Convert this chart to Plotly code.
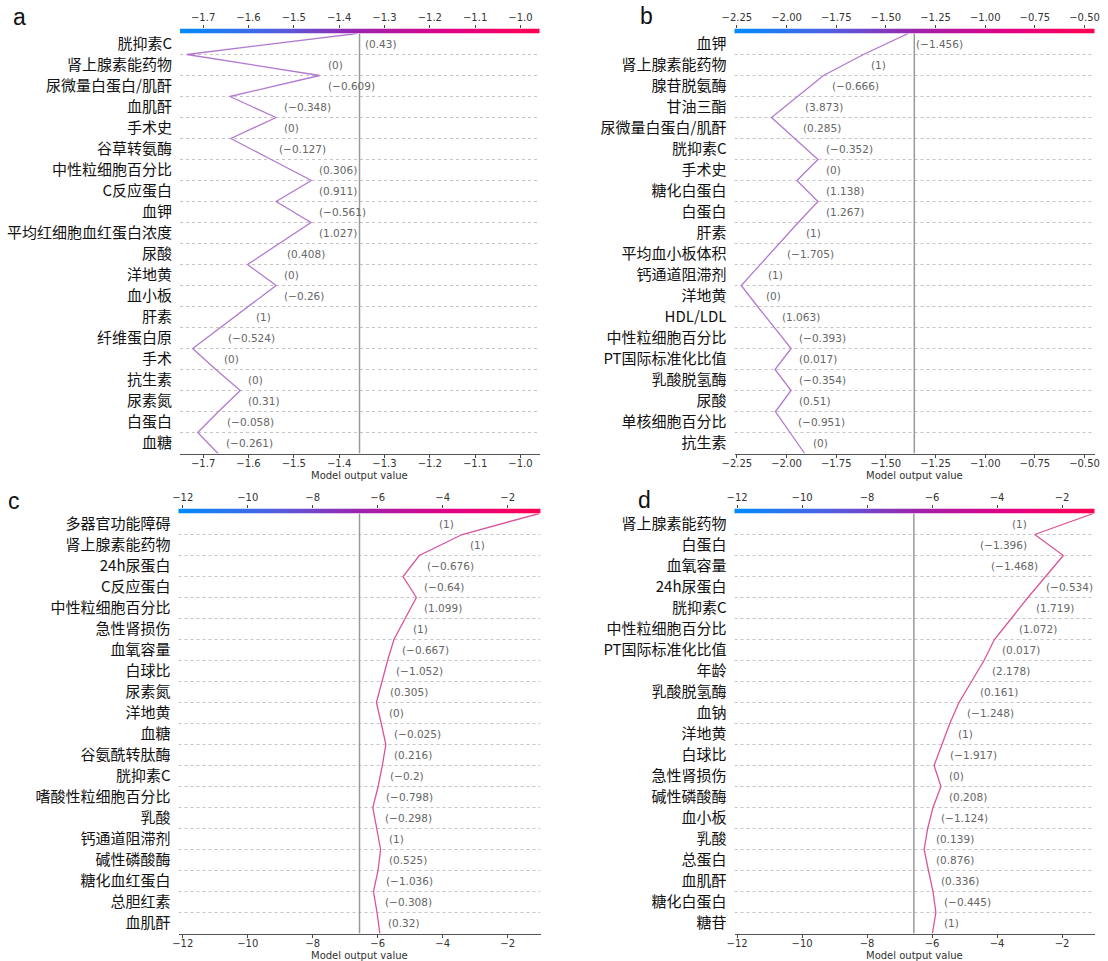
import numpy as np
import plotly.graph_objects as go

W, H = 1108, 961

# ---------------- data ----------------
# feature names, top -> bottom
features_a = ["胱抑素C", "肾上腺素能药物", "尿微量白蛋白/肌酐", "血肌酐", "手术史", "谷草转氨酶",
              "中性粒细胞百分比", "C反应蛋白", "血钾", "平均红细胞血红蛋白浓度", "尿酸", "洋地黄",
              "血小板", "肝素", "纤维蛋白原", "手术", "抗生素", "尿素氮", "白蛋白", "血糖"]
values_a = [0.43, 0, -0.609, -0.348, 0, -0.127, 0.306, 0.911, -0.561, 1.027, 0.408, 0,
            -0.26, 1, -0.524, 0, 0, 0.31, -0.058, -0.261]
# cumulative model output at the row boundaries, top -> bottom (21 values)
output_a = [-1.361, -1.736, -1.443, -1.641, -1.539, -1.639, -1.550, -1.461, -1.539, -1.462,
            -1.532, -1.602, -1.539, -1.600, -1.662, -1.723, -1.672, -1.618, -1.666, -1.712, -1.667]
base_a = -1.355
range_a = [-1.751, -0.958]
ticks_a = [-1.7, -1.6, -1.5, -1.4, -1.3, -1.2, -1.1, -1.0]

features_b = ["血钾", "肾上腺素能药物", "腺苷脱氨酶", "甘油三酯", "尿微量白蛋白/肌酐", "胱抑素C",
              "手术史", "糖化白蛋白", "白蛋白", "肝素", "平均血小板体积", "钙通道阻滞剂", "洋地黄",
              "HDL/LDL", "中性粒细胞百分比", "PT国际标准化比值", "乳酸脱氢酶", "尿酸",
              "单核细胞百分比", "抗生素"]
values_b = [-1.456, 1, -0.666, 3.873, 0.285, -0.352, 0, 1.138, 1.267, 1, -1.705, 1, 0,
            1.063, -0.393, 0.017, -0.354, 0.51, -0.951, 0]
output_b = [-1.388, -1.613, -1.814, -1.945, -2.076, -1.959, -1.842, -1.948, -1.842, -1.941,
            -2.036, -2.133, -2.228, -2.146, -2.062, -1.977, -2.058, -1.977, -2.056, -1.982, -1.909]
base_b = -1.357
range_b = [-2.262, -0.450]
ticks_b = [-2.25, -2.0, -1.75, -1.5, -1.25, -1.0, -0.75, -0.5]

features_c = ["多器官功能障碍", "肾上腺素能药物", "24h尿蛋白", "C反应蛋白", "中性粒细胞百分比",
              "急性肾损伤", "血氧容量", "白球比", "尿素氮", "洋地黄", "血糖", "谷氨酰转肽酶",
              "胱抑素C", "嗜酸性粒细胞百分比", "乳酸", "钙通道阻滞剂", "碱性磷酸酶",
              "糖化血红蛋白", "总胆红素", "血肌酐"]
values_c = [1, 1, -0.676, -0.64, 1.099, 1, -0.667, -1.052, 0.305, 0, -0.025, 0.216, -0.2,
            -0.798, -0.298, 1, 0.525, -1.036, -0.308, 0.32]
output_c = [-1.03, -3.40, -4.72, -5.22, -4.81, -5.16, -5.50, -5.695, -5.857, -6.04, -5.89,
            -5.75, -5.857, -5.987, -6.15, -6.02, -5.91, -5.99, -6.13, -6.02, -5.935]
base_c = -6.56
range_c = [-12.13, -0.99]
ticks_c = [-12, -10, -8, -6, -4, -2]

features_d = ["肾上腺素能药物", "白蛋白", "血氧容量", "24h尿蛋白", "胱抑素C", "中性粒细胞百分比",
              "PT国际标准化比值", "年龄", "乳酸脱氢酶", "血钠", "洋地黄", "白球比", "急性肾损伤",
              "碱性磷酸酶", "血小板", "乳酸", "总蛋白", "血肌酐", "糖化白蛋白", "糖苷"]
values_d = [1, -1.396, -1.468, -0.534, 1.719, 1.072, 0.017, 2.178, 0.161, -1.248, 1, -1.917,
            0, 0.208, -1.124, 0.139, 0.876, 0.336, -0.445, 1]
output_d = [-1.036, -2.84, -1.96, -2.50, -3.05, -3.56, -4.08, -4.40, -4.785, -5.17, -5.454,
            -5.69, -5.937, -5.727, -5.97, -6.135, -6.243, -6.11, -5.97, -5.882, -5.99]
base_d = -6.56
range_d = [-12.08, -1.00]
ticks_d = [-12, -10, -8, -6, -4, -2]

panel_letters = ["a", "b", "c", "d"]

# ---------------- styling / layout ----------------
# shap "red_blue" colormap approximation
colorscale = [[0.0, "#008bfb"], [0.25, "#4b63e3"], [0.5, "#9c23ac"],
              [0.75, "#e00086"], [1.0, "#ff0052"]]
line_colors = ["#b279cf", "#b279cf", "#d9559a", "#d9559a"]

# plot boxes in pixels: (left, right, top, bottom)
boxes = [(180.0, 539.5, 33.5, 453.5), (734.5, 1094.5, 33.5, 453.5),
         (178.5, 540.5, 513.5, 933.5), (734.5, 1094.5, 513.5, 933.5)]
letter_pos = [(19, 17), (646, 16), (14, 501), (644, 500)]
tick_formats = [".1f", ".2f", "d", "d"]

panels = [
    (features_a, values_a, output_a, base_a, range_a, ticks_a),
    (features_b, values_b, output_b, base_b, range_b, ticks_b),
    (features_c, values_c, output_c, base_c, range_c, ticks_c),
    (features_d, values_d, output_d, base_d, range_d, ticks_d),
]

VAL_FONT = 10.5
CHAR_W = {"(": 0.390, ")": 0.390, "−": 0.838, ".": 0.318}


def fmt_val(v):
    s = f"{abs(v):.3f}".rstrip("0").rstrip(".")
    return "(" + ("−" if v < 0 else "") + s + ")"


def text_w(s):
    return sum(CHAR_W.get(ch, 0.636) for ch in s) * VAL_FONT


fig = go.Figure()
layout = dict(width=W, height=H, margin=dict(l=0, r=0, t=0, b=0),
              paper_bgcolor="white", plot_bgcolor="white", template="none",
              showlegend=False, annotations=[])

for k, (feats, vals, outs, base, rng, ticks) in enumerate(panels):
    i = k + 1
    xs = "" if i == 1 else str(i)
    xa, ya = "x" + xs, "y" + xs
    left, right, top, bottom = boxes[k]
    xdom = [left / W, right / W]
    ydom = [1 - bottom / H, 1 - top / H]
    n = len(feats)

    layout["xaxis" + xs] = dict(
        domain=xdom, range=rng, anchor=ya, tickvals=ticks, tickformat=tick_formats[k],
        ticks="outside", ticklen=3, tickcolor="#444", showline=True, linecolor="#555",
        linewidth=1, showgrid=False, zeroline=False, ticklabelstandoff=-3,
        tickfont=dict(family="DejaVu Sans", size=10, color="#333"))
    layout["yaxis" + xs] = dict(
        domain=ydom, range=[0, n], anchor=xa,
        tickvals=[j + 0.5 for j in range(n)], ticktext=feats[::-1],
        ticks="", showline=False, showgrid=False, zeroline=False,
        ticklabelstandoff=7,
        tickfont=dict(family="Noto Sans CJK SC", size=15, color="#111"))

    # colorbar on top
    j = k + 5
    cx, cy = "x" + str(j), "y" + str(j)
    cb_top = top - 5.0
    layout["xaxis" + str(j)] = dict(
        domain=xdom, range=rng, anchor=cy, side="top", tickvals=ticks,
        tickformat=tick_formats[k], ticks="outside", ticklen=3, tickcolor="#444",
        showline=False, showgrid=False, zeroline=False,
        tickfont=dict(family="DejaVu Sans", size=10, color="#333"))
    layout["yaxis" + str(j)] = dict(domain=[1 - top / H, 1 - cb_top / H], range=[-0.5, 0.5],
                                    anchor=cx, visible=False)
    grad = np.linspace(rng[0], rng[1], 300)
    fig.add_trace(go.Heatmap(x=grad, y=[0], z=[grad], zmin=rng[0], zmax=rng[1],
                             colorscale=colorscale, showscale=False, xaxis=cx, yaxis=cy,
                             hoverinfo="skip"))

    # dotted row separators
    gx, gy = [], []
    for r in range(1, n):
        gx += [rng[0], rng[1], None]
        gy += [r, r, None]
    fig.add_trace(go.Scatter(x=gx, y=gy, mode="lines", xaxis=xa, yaxis=ya,
                             line=dict(color="#c4c4c4", width=1, dash="dot"), hoverinfo="skip"))

    # base value line
    fig.add_trace(go.Scatter(x=[base, base], y=[0, n], mode="lines", xaxis=xa, yaxis=ya,
                             line=dict(color="#9a9a9a", width=1.5), hoverinfo="skip"))

    # decision line
    yb = [n - r for r in range(n + 1)]
    fig.add_trace(go.Scatter(x=outs, y=yb, mode="lines", xaxis=xa, yaxis=ya,
                             line=dict(color=line_colors[k], width=1.3), hoverinfo="skip"))

    # feature value labels (shap placement rule)
    ppu = (right - left) / (rng[1] - rng[0])
    for r in range(n):
        txt = fmt_val(vals[r])
        hi = max(outs[r], outs[r + 1])
        lo = min(outs[r], outs[r + 1])
        wpx = text_w(txt)
        end_px = (hi - rng[0]) * ppu + 7 + wpx
        span = right - left
        if end_px <= span:
            xpos, anchor, shift = hi, "left", 6
        elif end_px - span <= 8:
            xpos, anchor, shift = rng[1], "right", 0
        else:
            xpos, anchor, shift = lo, "right", -6
        layout["annotations"].append(dict(
            x=xpos, y=n - r - 0.5, xref=xa, yref=ya, text=txt, showarrow=False,
            xanchor=anchor, yanchor="middle", xshift=shift,
            font=dict(family="DejaVu Sans", size=VAL_FONT, color="#666")))

    # axis title
    layout["annotations"].append(dict(
        x=(xdom[0] + xdom[1]) / 2, y=1 - (bottom + 21.5) / H, xref="paper", yref="paper",
        text="Model output value", showarrow=False, xanchor="center", yanchor="middle",
        font=dict(family="DejaVu Sans", size=10, color="#333")))

    # panel letter
    lx, ly = letter_pos[k]
    layout["annotations"].append(dict(
        x=lx / W, y=1 - ly / H, xref="paper", yref="paper", text=panel_letters[k],
        showarrow=False, xanchor="center", yanchor="middle",
        font=dict(family="Liberation Sans", size=23, color="#111")))

fig.update_layout(**layout)
fig.write_html("out.html")
